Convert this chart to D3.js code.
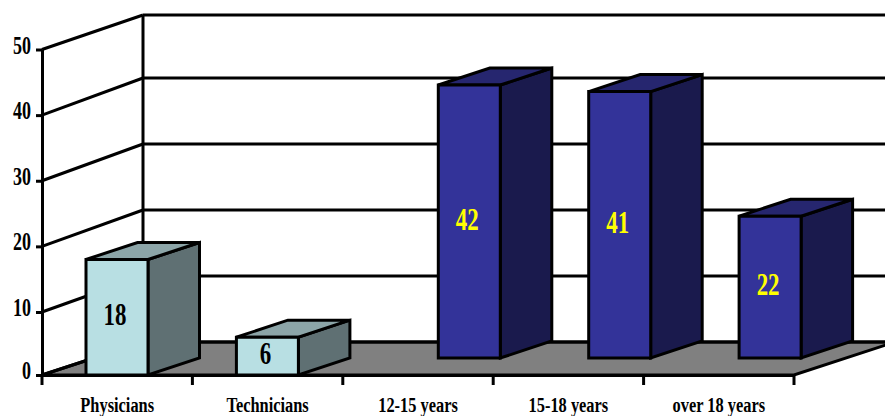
<!DOCTYPE html>
<html>
<head>
<meta charset="utf-8">
<script src="https://cdn.jsdelivr.net/npm/d3@7"></script>
<style>
  html, body { margin: 0; padding: 0; background: #fff; }
  svg { display: block; }
  text { font-family: "Liberation Serif", serif; font-weight: bold; }
</style>
</head>
<body>
<svg id="chart" width="885" height="416"></svg>
<script>
const categories = ["Physicians", "Technicians", "12-15 years", "15-18 years", "over 18 years"];
const values = [18, 6, 42, 41, 22];
const rows = [0, 0, 1, 1, 1];
const yTicks = [0, 10, 20, 30, 40, 50];

const frontPalette = ["#b8dfe3", "#333399"];
const sidePalette = ["#5f7073", "#1a1a4d"];
const topPalette = ["#8ca5a8", "#26266f"];
const labelPalette = ["#000000", "#ffff00"];

const W = 885;
const svg = d3.select("#chart");

const x = d3.scaleBand().domain(categories).range([42, 794]).paddingInner(0).paddingOuter(0);
// Front edge of the plot and the back wall snap to slightly different pixel rows.
const y = d3.scaleLinear().domain([0, 10, 50]).range([375, 312, 49.5]);
const yBack = d3.scaleLinear().domain([0, 40, 50]).range([342, 78, 15]);

// Oblique projection: one depth unit moves a point up and to the right.
const wallDX = 101;
const rowDX = 51.5, rowDY = -17;
const barInset = 44, barWidth = 62;
const lineW = 3;

const poly = (pts, fill) => svg.append("path")
  .attr("d", "M" + pts.map(p => p.join(",")).join("L") + "Z")
  .attr("fill", fill).attr("stroke", "#000").attr("stroke-width", lineW)
  .attr("stroke-linejoin", "miter");

const seg = (x1, y1, x2, y2, w = lineW) => svg.append("line")
  .attr("x1", x1).attr("y1", y1).attr("x2", x2).attr("y2", y2)
  .attr("stroke", "#000").attr("stroke-width", w);

const [xL, xR] = x.range();

// Floor
poly([
  [xL, y(0)],
  [xR, y(0)],
  [xR + wallDX, yBack(0)],
  [xL + wallDX, yBack(0)]
], "#808080");

// Walls: gridlines run along the side wall, then across the back wall
yTicks.forEach(t => {
  seg(xL, y(t), xL + wallDX, yBack(t));
  seg(xL + wallDX, yBack(t), W + 4, yBack(t));
});
seg(xL + wallDX, yBack(50), xL + wallDX, yBack(0));

// Bars, back row first
categories
  .map((c, i) => ({ c, v: values[i], r: rows[i] }))
  .sort((a, b) => b.r - a.r)
  .forEach(d => {
    const x0 = x(d.c) + barInset + rowDX * d.r;
    const x1 = x0 + barWidth;
    const base = y(0) + rowDY * d.r;
    const top = base - (y(0) - y(d.v));
    poly([[x1, top], [x1 + rowDX, top + rowDY], [x1 + rowDX, base + rowDY], [x1, base]], sidePalette[d.r]);
    poly([[x0, top], [x0 + rowDX, top + rowDY], [x1 + rowDX, top + rowDY], [x1, top]], topPalette[d.r]);
    poly([[x0, top], [x1, top], [x1, base], [x0, base]], frontPalette[d.r]);
    svg.append("text")
      .attr("transform", `translate(${(x0 + x1) / 2 - 2},${(top + base) / 2 + 8}) scale(0.74,1)`)
      .attr("text-anchor", "middle")
      .attr("font-size", 31)
      .attr("fill", labelPalette[d.r])
      .text(d.v);
  });

// Value axis
const yAxis = svg.append("g")
  .attr("transform", `translate(${xL},0)`)
  .call(d3.axisLeft(y).tickValues(yTicks).tickSize(6).tickSizeOuter(0));
yAxis.selectAll("path, line").attr("stroke", "#000").attr("stroke-width", lineW);
yAxis.selectAll("text")
  .attr("font-size", 25)
  .attr("fill", "#000")
  .attr("text-anchor", "end")
  .attr("dy", null)
  .attr("x", null)
  .attr("transform", "translate(-11,3.5) scale(0.72,1)");

// Category axis
const xAxis = svg.append("g")
  .attr("transform", `translate(0,${y(0)})`)
  .call(d3.axisBottom(x).tickValues([]).tickSizeOuter(0));
xAxis.selectAll("path").attr("stroke", "#000").attr("stroke-width", lineW);
categories.map(c => x(c)).concat(xR).forEach(b => seg(b, y(0), b, y(0) + 10));

categories.forEach(c => {
  svg.append("text")
    .attr("transform", `translate(${x(c) + x.bandwidth() / 2},412) scale(0.82,1)`)
    .attr("text-anchor", "middle")
    .attr("font-size", 20)
    .attr("fill", "#000")
    .text(c);
});
</script>
</body>
</html>
